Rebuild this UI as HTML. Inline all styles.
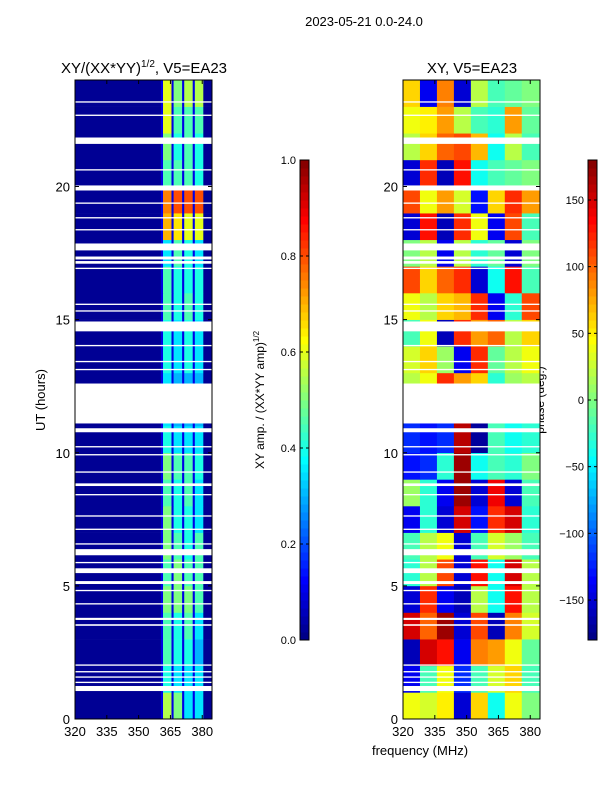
<!DOCTYPE html>
<html><head><meta charset="utf-8"><style>
html,body{margin:0;padding:0;background:#fff;}
svg{display:block;font-family:"Liberation Sans",sans-serif;}
</style></head><body>
<svg id="fig" width="600" height="800" viewBox="0 0 600 800" xmlns="http://www.w3.org/2000/svg">
<text x="364" y="26" font-size="13" text-anchor="middle">2023-05-21 0.0-24.0</text>
<text x="144" y="73" font-size="15" text-anchor="middle">XY/(XX*YY)<tspan font-size="10" dy="-6">1/2</tspan><tspan dy="6">, V5=EA23</tspan></text>
<text x="472" y="73" font-size="15" text-anchor="middle">XY, V5=EA23</text>
<text x="45" y="400" font-size="13" text-anchor="middle" transform="rotate(-90 45 400)">UT (hours)</text>
<text x="420" y="755" font-size="13" text-anchor="middle">frequency (MHz)</text>
<text x="264" y="400" font-size="12" text-anchor="middle" transform="rotate(-90 264 400)">XY amp. / (XX*YY amp)<tspan font-size="8" dy="-5">1/2</tspan></text>
<text x="544" y="400" font-size="12" text-anchor="middle" transform="rotate(-90 544 400)">phase (deg.)</text>
<g id="layer"></g>
</svg>
<script>
const hours = [0,1,2,3,4,5,6,7,8,9,10,11,12,13,14,15,16,17,18,19,20,21,22,23];
const freqEdges = [320,360.5,361.5,365.5,366.5,370.5,371.5,375.5,376.5,380.5,384.6];
const ampBand1 = [0.55,0.4,0.45,0.45,0.5,0.45,0.5,0.5,0.45,0.5,0.4,0.35,0.35,0.4,0.4,0.45,0.45,0.35,0.7,0.75,0.45,0.5,0.6,0.6];
const ampBand2 = [0.5,0.35,0.4,0.4,0.5,0.5,0.45,0.4,0.4,0.45,0.35,0.3,0.3,0.35,0.35,0.4,0.4,0.45,0.65,0.8,0.45,0.4,0.45,0.5];
const ampBand3 = [0.35,0.35,0.4,0.45,0.5,0.45,0.4,0.4,0.45,0.45,0.35,0.3,0.3,0.4,0.4,0.45,0.4,0.4,0.6,0.8,0.45,0.45,0.45,0.55];
const ampBand4 = [0.35,0.35,0.3,0.35,0.45,0.45,0.45,0.35,0.35,0.4,0.35,0.3,0.3,0.35,0.35,0.4,0.4,0.35,0.6,0.8,0.4,0.4,0.45,0.55];
const ampBackground = 0.02;
const ampSeparator = 0.1;
const phaseFreqEdges = [320,328,336,344,352,360,368,376,384.6];
const phaseGrid = [
 [40,30,50,-150,60,-40,40,0],
 [-140,-20,40,-120,-20,30,60,-20],
 [-160,150,130,-140,90,80,40,-10],
 [150,100,170,-150,110,-160,90,30],
 [-150,120,-140,-160,20,-40,130,20],
 [-30,20,110,-150,130,-40,150,20],
 [-20,20,40,-150,-20,30,10,-20],
 [-140,-30,-150,150,-130,120,150,-30],
 [10,-30,-140,170,-150,140,-150,-20],
 [-130,-120,-30,170,-40,-20,-30,0],
 [-120,-130,-120,160,-170,-20,-40,-30],
 [-120,-130,-120,160,-170,-20,-40,-30],
 [20,40,120,80,60,-30,10,20],
 [30,60,10,-140,120,-10,20,40],
 [-20,40,-160,120,80,100,20,60],
 [40,20,60,70,120,-140,-30,110],
 [110,60,100,120,-150,-40,130,-20],
 [0,20,-140,20,-30,-10,-150,0],
 [-150,130,-160,120,40,-140,110,-20],
 [110,40,80,30,-130,60,120,80],
 [-150,120,-160,130,-40,-20,-10,0],
 [20,60,100,110,70,-40,20,-20],
 [40,50,80,20,-20,-30,80,-10],
 [60,-140,90,-150,20,-20,-10,0]
];
const flagged = [[1.05,1.24],[1.35,1.4],[1.55,1.6],[1.75,1.8],[2.0,2.05],[3.5,3.56],[3.72,3.8],[4.3,4.35],[4.8,4.85],[5.07,5.18],[5.48,5.66],[5.85,5.9],[6.15,6.38],[6.55,6.6],[7.1,7.15],[7.6,7.65],[8.4,8.45],[8.75,8.85],[9.25,9.3],[9.9,9.95],[10.2,10.25],[10.77,10.92],[11.1,12.6],[13.1,13.15],[13.4,13.45],[14.0,14.05],[14.56,14.93],[15.3,15.35],[15.55,15.6],[16.9,16.95],[17.1,17.2],[17.26,17.37],[17.6,17.86],[18.35,18.4],[18.8,18.85],[19.35,19.4],[19.85,20.04],[20.6,20.65],[21.6,21.84],[22.65,22.7],[23.15,23.2]];
const xTicks = [320,335,350,365,380];
const yTicks = [0,5,10,15,20];
const ampTicks = [0.0,0.2,0.4,0.6,0.8,1.0];
const phaseTicks = [-150,-100,-50,0,50,100,150];

const NS="http://www.w3.org/2000/svg";
const layer=document.getElementById('layer');
function mk(tag,attrs,parent){const e=document.createElementNS(NS,tag);for(const k in attrs)e.setAttribute(k,attrs[k]);(parent||layer).appendChild(e);return e;}
function jet(t){t=Math.max(0,Math.min(1,t));const c=v=>Math.round(255*Math.max(0,Math.min(1,v)));
 return `rgb(${c(1.5-Math.abs(4*t-3))},${c(1.5-Math.abs(4*t-2))},${c(1.5-Math.abs(4*t-1))})`;}
const Y0=719,Y1=80;
function yScale(h){return Y0-(h/24)*(Y0-Y1);}
function makeX(left){return f=>left+(f-320)/(384.6-320)*137;}

function panel(left,name,fill){
 const x=makeX(left);
 const g=mk('g',{});
 
 
 fill(g,x);
 flagged.forEach(fr=>{
  const r=mk('rect',{x:left,y:yScale(fr[1]),width:137,height:yScale(fr[0])-yScale(fr[1]),fill:'#fff'},g);
  
  
 });
 const fr=mk('rect',{x:left,y:Y1,width:137,height:Y0-Y1,fill:'none',stroke:'#000','stroke-width':1},g);
 
 
 xTicks.forEach(t=>{
  const xx=x(t);
  mk('line',{x1:xx,x2:xx,y1:Y0,y2:Y0-4,stroke:'#000'},g);
  mk('line',{x1:xx,x2:xx,y1:Y1,y2:Y1+4,stroke:'#000'},g);
  const tx=mk('text',{x:xx,y:Y0+17,'font-size':13,'text-anchor':'middle'},g);
  tx.textContent=t;
  
  
 });
 yTicks.forEach(t=>{
  const yy=yScale(t);
  mk('line',{x1:left,x2:left+4,y1:yy,y2:yy,stroke:'#000'},g);
  mk('line',{x1:left+137,x2:left+133,y1:yy,y2:yy,stroke:'#000'},g);
  const tx=mk('text',{x:left-5,y:yy+5,'font-size':13,'text-anchor':'end'},g);
  tx.textContent=t;
  
  
 });
}
const bands=[ampBand1,ampBand2,ampBand3,ampBand4];
panel(75,'amplitude-heatmap',(g,x)=>{
 hours.forEach((h,i)=>{
  for(let c=0;c<freqEdges.length-1;c++){
   let v;
   if(c===0||c===9) v=ampBackground;
   else if(c%2===1) v=ampSeparator;
   else v=bands[c/2-1][i];
   const r=mk('rect',{x:x(freqEdges[c]),y:yScale(h+1),width:x(freqEdges[c+1])-x(freqEdges[c])+0.3,height:yScale(h)-yScale(h+1)+0.3,fill:jet(v)},g);
   
   
  }
 });
});
panel(403,'phase-heatmap',(g,x)=>{
 hours.forEach((h,i)=>{
  for(let c=0;c<phaseFreqEdges.length-1;c++){
   const r=mk('rect',{x:x(phaseFreqEdges[c]),y:yScale(h+1),width:x(phaseFreqEdges[c+1])-x(phaseFreqEdges[c])+0.3,height:yScale(h)-yScale(h+1)+0.3,fill:jet((phaseGrid[i][c]+180)/360)},g);
   
   
  }
 });
});
function colorbar(left,name,ticks,lo,hi,fmt){
 const g=mk('g',{});
 
 
 const top=160,bot=640,n=60;
 for(let i=0;i<n;i++){
  mk('rect',{x:left,y:bot-(i+1)*(bot-top)/n,width:9,height:(bot-top)/n+0.5,fill:jet((i+0.5)/n)},g);
 }
 mk('rect',{x:left,y:top,width:9,height:bot-top,fill:'none',stroke:'#000'},g);
 ticks.forEach(t=>{
  const yy=bot-(t-lo)/(hi-lo)*(bot-top);
  mk('line',{x1:left,x2:left+3,y1:yy,y2:yy,stroke:'#000'},g);
  mk('line',{x1:left+9,x2:left+6,y1:yy,y2:yy,stroke:'#000'},g);
  const tx=mk('text',{x:left-4,y:yy+4,'font-size':11,'text-anchor':'end'},g);
  tx.textContent=fmt(t);
  
  
 });
}
colorbar(300,'amplitude-colorbar',ampTicks,0,1,t=>t.toFixed(1));
colorbar(588,'phase-colorbar',phaseTicks,-180,180,t=>t<0?'\u2212'+(-t):String(t));
</script>
</body></html>
